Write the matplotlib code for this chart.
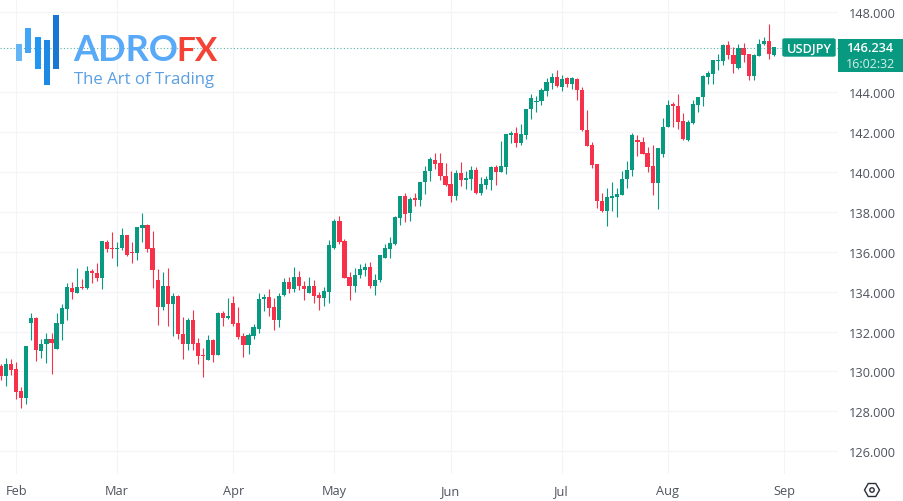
import math
import matplotlib
matplotlib.use('Agg')
import matplotlib.pyplot as plt
from matplotlib.patches import Rectangle, FancyBboxPatch, RegularPolygon, Circle

plt.rcParams['font.family'] = ['Open Sans', 'DejaVu Sans']

GREEN = '#089981'
RED = '#f7314a'
GRID = '#f3f4f7'
TEXT = '#50535e'
W, H = 904, 502

opens = [130.29,129.79,130.39,130.12,129.00,128.67,132.44,132.67,131.04,131.37,
         131.62,131.14,132.39,133.14,134.20,133.95,134.25,134.17,135.04,134.95,
         134.69,136.47,136.17,136.14,136.17,136.84,135.99,135.94,137.17,137.34,
         136.17,134.57,133.22,134.27,133.37,133.79,131.89,131.37,132.57,131.44,
         130.82,130.59,131.60,130.84,132.92,132.67,133.42,132.42,131.77,131.35,
         131.77,132.12,133.62,133.72,133.22,132.57,133.82,134.47,134.12,134.72,
         134.29,133.95,134.29,133.82,133.69,134.00,136.17,137.52,136.55,134.72,
         134.30,134.82,135.07,135.25,134.30,134.57,135.70,136.14,136.37,137.69,
         138.77,137.95,138.67,138.60,139.48,140.04,140.59,140.47,139.82,139.37,
         138.77,139.97,139.62,139.65,140.12,138.95,139.32,139.60,140.25,140.00,
         140.27,141.87,141.97,141.47,141.87,143.14,143.49,143.54,144.07,144.47,
         144.77,144.24,144.69,144.42,144.67,144.12,142.12,141.34,140.42,138.55,
         138.04,138.70,138.74,138.82,139.64,140.09,141.59,141.50,140.94,140.29,
         139.44,140.90,142.25,143.37,143.32,142.55,141.62,142.47,143.37,143.74,
         144.75,144.92,145.57,145.57,146.37,145.87,145.20,146.22,145.89,144.80,
         145.80,146.40,146.55,145.87]
closes = [129.79,130.39,130.09,128.99,128.67,131.27,132.67,131.05,131.39,131.62,
          131.44,132.42,133.17,134.22,133.97,134.22,134.17,135.04,134.94,134.70,
          136.54,136.12,136.14,136.20,136.84,135.84,135.94,137.22,137.32,136.12,
          135.09,133.22,134.27,133.37,133.77,131.87,131.37,132.57,131.39,130.79,
          130.75,131.60,130.84,132.94,132.67,132.77,132.39,131.72,131.35,131.82,
          132.22,133.65,133.74,133.17,132.57,133.79,134.47,134.12,134.72,134.27,
          134.12,134.29,133.79,133.67,134.02,136.32,137.52,136.50,134.70,134.30,
          134.85,135.12,135.25,134.29,134.60,135.82,136.17,136.42,137.74,138.77,
          137.90,138.65,138.57,139.50,140.07,140.64,140.42,139.79,139.34,138.77,
          139.95,139.60,139.67,140.12,138.95,139.37,139.64,140.25,140.02,140.29,
          141.90,141.97,141.47,141.89,143.17,143.70,143.54,144.12,144.50,144.77,
          144.29,144.67,144.42,144.69,144.09,142.09,141.30,140.37,138.54,138.04,
          138.72,138.77,138.87,139.67,140.12,141.85,141.49,140.92,140.27,139.44,
          141.20,142.27,143.35,143.32,142.50,141.67,142.50,143.42,143.77,144.79,
          144.97,145.59,145.62,146.37,145.84,145.39,146.22,145.87,144.80,145.85,
          146.40,146.54,145.89,146.24]
highs = [130.37,130.65,130.60,130.47,129.22,131.30,132.95,132.75,131.62,131.92,
         131.95,132.95,133.37,134.42,134.50,135.17,134.62,135.30,135.14,135.42,
         136.55,136.60,137.00,136.50,137.17,136.85,136.50,137.25,137.95,137.37,
         137.04,135.12,134.97,135.17,133.92,133.84,132.72,132.67,133.07,131.70,
         131.17,131.84,131.62,132.97,133.04,133.67,133.80,133.22,131.92,131.95,
         132.40,133.95,133.87,134.12,133.67,133.92,134.67,134.75,135.22,135.04,
         134.55,134.75,134.57,134.00,134.25,136.60,137.62,137.80,136.65,134.97,
         135.17,135.37,135.42,135.50,134.90,135.83,136.37,136.72,137.77,138.80,
         138.92,138.72,138.95,139.50,140.29,140.75,140.95,140.97,140.47,140.04,
         140.09,140.52,140.05,140.29,140.25,139.77,139.82,140.32,140.34,141.55,
         141.92,142.04,142.27,142.40,143.17,143.89,143.79,144.22,144.70,144.94,
         145.10,144.87,144.74,144.74,144.70,144.25,143.09,141.50,140.42,138.95,
         139.17,139.47,139.20,140.05,140.55,141.95,141.87,141.75,141.25,141.37,
         141.20,142.70,143.59,143.50,143.92,142.97,142.62,143.59,143.77,144.84,
         145.05,145.59,145.92,146.42,146.55,146.25,146.42,146.44,145.89,145.92,
         146.67,146.75,147.42,146.27]
lows = [129.57,129.27,129.84,128.62,128.17,128.39,131.57,130.54,130.67,130.42,
        129.89,131.12,131.59,132.60,133.64,133.93,134.15,134.15,134.42,134.55,
        134.14,135.97,135.67,135.30,136.09,135.80,135.42,135.59,136.50,135.99,
        134.17,132.34,133.07,132.30,131.77,131.62,130.62,131.09,131.07,130.39,
        129.70,130.57,130.47,130.82,132.27,132.65,132.29,131.62,130.70,130.87,
        131.62,131.95,133.04,132.79,132.07,132.22,133.80,133.92,134.00,134.09,
        133.60,133.92,133.42,133.09,133.27,133.42,136.15,136.37,134.67,133.57,
        133.97,134.67,134.79,134.17,133.84,134.49,135.68,135.70,136.35,137.35,
        137.49,137.55,138.29,138.30,138.87,139.55,140.17,139.59,139.30,138.49,
        138.60,139.30,139.15,139.09,138.87,138.82,139.14,139.09,139.32,139.98,
        139.92,141.47,141.25,141.34,141.64,142.67,142.99,143.34,143.79,144.17,
        144.25,144.04,144.24,144.14,143.59,142.07,141.28,140.20,138.20,137.97,
        137.30,138.04,137.72,138.82,139.17,139.82,140.79,140.89,140.00,138.84,
        138.14,140.74,142.25,142.27,142.14,141.59,141.54,142.42,143.00,143.29,
        144.42,144.42,145.12,145.34,145.64,144.95,145.17,145.50,144.59,144.62,
        145.80,146.34,145.67,145.80]

month_labels = ['Feb', 'Mar', 'Apr', 'May', 'Jun', 'Jul', 'Aug', 'Sep']
month_pos = [3, 23, 46, 66, 89, 111, 132, 155]
price_ticks = [126, 128, 130, 132, 134, 136, 138, 140, 142, 144, 146, 148]
shown_ticks = [126, 128, 130, 132, 134, 136, 138, 140, 142, 144, 148]
last_price = 146.234
symbol = 'USDJPY'
countdown = '16:02:32'


def px(x, y, w=0, h=0):
    # pixel box from top left -> figure fractions
    return x / W, 1 - (y + h) / H, w / W, h / H


fig = plt.figure(figsize=(W / 100, H / 100), dpi=100)
ax = fig.add_axes(px(0, 0, 838, 475))
ax.set_xlim(-0.198, 165.7)
ax.set_ylim(124.86, 148.667)

for s in ax.spines.values():
    s.set_visible(False)
# 146 sits behind the price box
ax.set_yticks(shown_ticks)
ax.set_yticklabels(['%.3f' % p for p in shown_ticks])
ax.yaxis.tick_right()
ax.set_xticks(month_pos)
ax.set_xticklabels(month_labels)
ax.tick_params(axis='y', length=0, pad=8, labelsize=9.2, labelcolor=TEXT)
ax.tick_params(axis='x', length=0, pad=7.5, labelsize=9.2, labelcolor=TEXT)
ax.grid(True, color=GRID, linewidth=0.8)
ax.set_axisbelow(True)

# candles
idx = list(range(len(opens)))
colors = [GREEN if c >= o else RED for o, c in zip(opens, closes)]
ax.vlines(idx, lows, highs, colors=colors, linewidth=0.8, zorder=2)
bottoms = [min(o, c) for o, c in zip(opens, closes)]
sizes = [max(abs(c - o), 0.06) for o, c in zip(opens, closes)]
ax.bar(idx, sizes, bottom=bottoms, width=0.82, color=colors, linewidth=0, zorder=3)

# last price line
ax.axhline(last_price, color=GREEN, linewidth=0.8, linestyle=(0, (1, 2)), alpha=0.7, zorder=4)

# logo bars
logo_bars = [(16, 45, 17, '#64b5f6'), (25, 29, 25, '#42a5f5'), (35, 38, 32, '#2196f3'),
             (44, 41, 45, '#1e88e5'), (53, 16, 54, '#1976d2')]
for x, y, h, c in logo_bars:
    fig.add_artist(Rectangle((x / W, 1 - (y + h) / H), 6 / W, h / H,
                             transform=fig.transFigure, color=c, linewidth=0, zorder=5))
fig.text(73 / W, 1 - 61 / H, 'ADRO', family='Lato', weight='bold', fontsize=26, color='#58a9f8', zorder=6)
fig.text(176 / W, 1 - 61 / H, 'FX', family='Lato', weight='bold', fontsize=24, color='#f44336', zorder=6)
fig.text(74 / W, 1 - 84 / H, 'The Art of Trading', family='Open Sans', fontsize=12.1, color='#5b9fe3', zorder=6)

# symbol tag and price box
fig.add_artist(FancyBboxPatch((783 / W, 1 - 57 / H), 52 / W, 17 / H, boxstyle='round,pad=0,rounding_size=0.002',
                              transform=fig.transFigure, facecolor=GREEN, edgecolor=GREEN, linewidth=1, zorder=5))
fig.add_artist(Rectangle((838 / W, 1 - 73 / H), 65 / W, 33 / H, transform=fig.transFigure,
                         color=GREEN, linewidth=0, zorder=5))
fig.text(809 / W, 1 - 49 / H, symbol, color='white', fontsize=9.2, weight='semibold', ha='center', va='center', zorder=6)
fig.text(870 / W, 1 - 48 / H, '%.3f' % last_price, color='white', fontsize=9.2, weight='semibold', ha='center', va='center', zorder=6)
fig.text(871 / W, 1 - 65 / H, countdown, color='#d5efe9', fontsize=9, ha='center', va='center', zorder=6)

# settings icon
fig.add_artist(RegularPolygon((872, H - 491), 6, radius=7.5, orientation=math.pi / 6, transform=None,
                              facecolor='none', edgecolor='#2a2e39', linewidth=1, zorder=6))
fig.add_artist(Circle((872, H - 491), 2.2, transform=None, facecolor='none',
                      edgecolor='#2a2e39', linewidth=1, zorder=6))

fig.savefig('out.png', dpi=100)
